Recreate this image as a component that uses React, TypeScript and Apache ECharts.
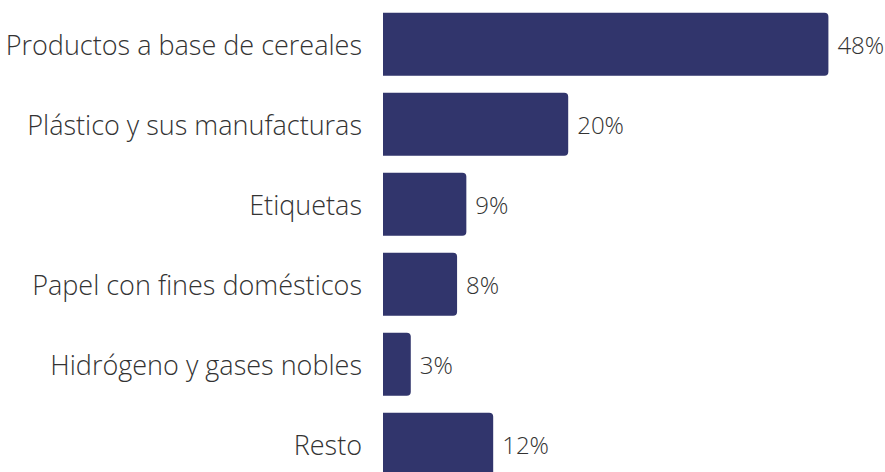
import React, { useEffect, useRef } from "react";
import * as echarts from "echarts";

const categories = [
  "Productos a base de cereales",
  "Plástico y sus manufacturas",
  "Etiquetas",
  "Papel con fines domésticos",
  "Hidrógeno y gases nobles",
  "Resto",
];
const values = [48.1, 20.0, 9.0, 8.0, 3.0, 11.9];
const valueLabels = ["48%", "20%", "9%", "8%", "3%", "12%"];

export default function App() {
  const ref = useRef<HTMLDivElement>(null);
  useEffect(() => {
    if (!ref.current) return;
    const chart = echarts.init(ref.current, undefined, { renderer: "svg" });
    chart.setOption({
      animation: false,
      textStyle: { fontFamily: "Open Sans" },
      grid: { left: 383, top: 4.3, width: 463, height: 480, containLabel: false },
      xAxis: {
        type: "value",
        min: 0,
        max: 50,
        show: false,
      },
      yAxis: {
        type: "category",
        data: categories,
        inverse: true,
        axisLine: { show: false },
        axisTick: { show: false },
        axisLabel: {
          margin: 21,
          fontSize: 27,
          fontWeight: 300,
          color: "#333333",
          fontFamily: "Open Sans",
        },
      },
      series: [
        {
          type: "bar",
          data: values,
          barWidth: 63,
          itemStyle: { color: "#31356c", borderRadius: [0, 4, 4, 0] },
          label: {
            show: true,
            position: "right",
            distance: 9,
            fontSize: 24,
            fontWeight: 300,
            color: "#333333",
            fontFamily: "Open Sans",
            formatter: (p: any) => valueLabels[p.dataIndex],
          },
        },
      ],
    });
    return () => chart.dispose();
  }, []);
  return (
    <div
      style={{
        position: "absolute",
        left: 0,
        top: 0,
        width: 885,
        height: 472,
        overflow: "hidden",
        background: "#ffffff",
      }}
    >
      <div ref={ref} style={{ width: 885, height: 490 }} />
    </div>
  );
}
